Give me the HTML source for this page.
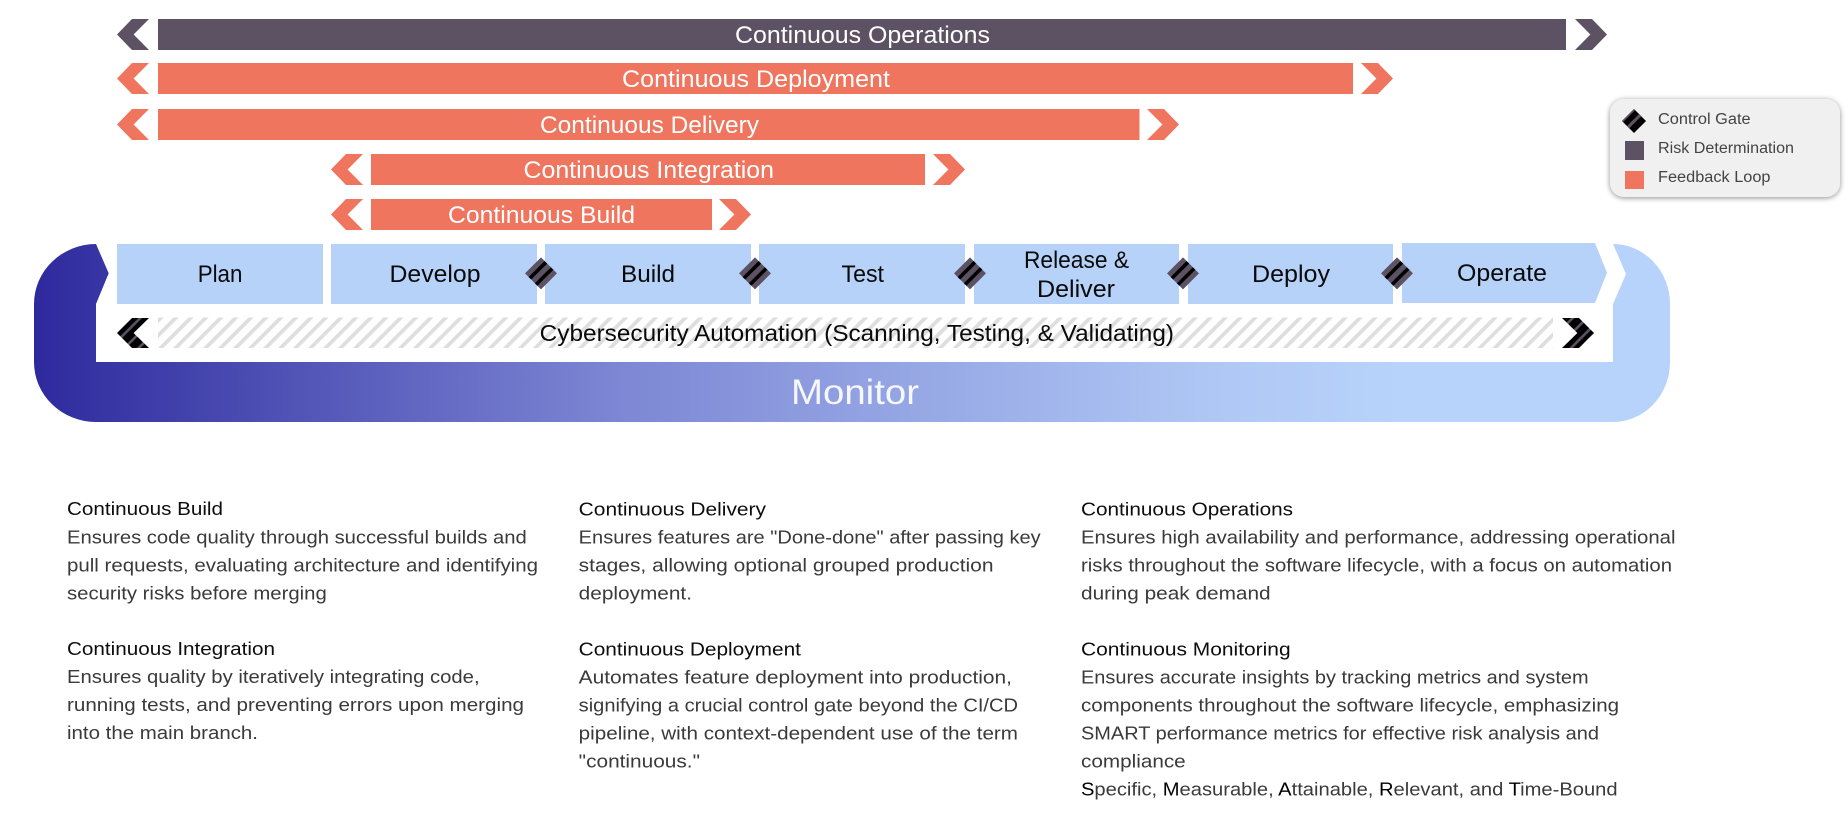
<!DOCTYPE html>
<html lang="en"><head><meta charset="utf-8"><title>Continuous pipeline diagram</title>
<style>
html,body{margin:0;padding:0;background:#fff;width:1848px;height:820px;overflow:hidden}
svg{display:block}
text{font-family:"Liberation Sans",sans-serif}
.bar{fill:#fff;font-size:24.5px}
.blk{fill:#0a0a0a;font-size:24px}
.h{fill:#0d0d0d;font-size:18px}
.b{fill:#3a3a3a;font-size:18px}
.b tspan{fill:#000}
.lg{fill:#444;font-size:15.5px}
</style></head><body>
<svg xmlns="http://www.w3.org/2000/svg" width="1848" height="820" viewBox="0 0 1848 820">
<defs>
<linearGradient id="mon" gradientUnits="userSpaceOnUse" x1="34" y1="0" x2="1400" y2="0">
<stop offset="0" stop-color="#2e2a9e"/><stop offset=".429" stop-color="#7d87d4"/><stop offset=".853" stop-color="#aec6f4"/><stop offset="1" stop-color="#b7d3fb"/>
</linearGradient>
<pattern id="hatch" patternUnits="userSpaceOnUse" width="10.6" height="10.6" patternTransform="translate(158 318) rotate(-45)">
<rect width="10.6" height="10.6" fill="#fff"/><rect width="10.6" height="3.7" fill="#dedede"/>
</pattern>
<pattern id="chev" patternUnits="userSpaceOnUse" width="10" height="10" patternTransform="translate(117 318) rotate(-45)">
<rect width="10" height="10" fill="#000"/><rect y="5.2" width="10" height="2.6" fill="#5c5263"/>
</pattern>
<pattern id="chev2" patternUnits="userSpaceOnUse" width="10" height="10" patternTransform="translate(1562 318) rotate(-45)">
<rect width="10" height="10" fill="#000"/><rect y="6.3" width="10" height="2.6" fill="#5c5263"/>
</pattern>
<filter id="sh" x="-10%" y="-20%" width="120%" height="140%"><feDropShadow dx="0" dy="1" stdDeviation="2.6" flood-color="#000" flood-opacity=".45"/></filter>
<g id="gate">
<rect x="-11.3" y="-11.3" width="22.6" height="22.6" fill="#5c5263"/>
<rect x="-11.3" y="-6.2" width="22.6" height="3.6" fill="#000"/>
<rect x="-11.3" y="2.6" width="22.6" height="3.6" fill="#000"/>
</g>
</defs>

<!-- top bars -->
<g fill="#5c5264">
<polygon points="149,19 132,19 117,34.5 132,50 149,50 133.6,34.5"/>
<rect x="158" y="19" width="1408" height="31"/>
<polygon points="1575,19 1592,19 1607,34.5 1592,50 1575,50 1590.4,34.5"/>
</g>
<g fill="#ef755f">
<polygon points="149,63 132,63 117,78.5 132,94 149,94 133.6,78.5"/>
<rect x="158" y="63" width="1195" height="31"/>
<polygon points="1361,63 1378,63 1393,78.5 1378,94 1361,94 1376.4,78.5"/>
<polygon points="149,109 132,109 117,124.5 132,140 149,140 133.6,124.5"/>
<rect x="158" y="109" width="981.5" height="31"/>
<polygon points="1147,109 1164,109 1179,124.5 1164,140 1147,140 1162.4,124.5"/>
<polygon points="363,154 346,154 331,169.5 346,185 363,185 347.6,169.5"/>
<rect x="371" y="154" width="554" height="31"/>
<polygon points="933,154 950,154 965,169.5 950,185 933,185 948.4,169.5"/>
<polygon points="363,199 346,199 331,214.5 346,230 363,230 347.6,214.5"/>
<rect x="371" y="199" width="341" height="31"/>
<polygon points="719,199 736,199 751,214.5 736,230 719,230 734.4,214.5"/>
</g>
<g class="bar">
<text x="735" y="43" textLength="255" lengthAdjust="spacingAndGlyphs">Continuous Operations</text>
<text x="622" y="87" textLength="268" lengthAdjust="spacingAndGlyphs">Continuous Deployment</text>
<text x="540" y="133" textLength="219" lengthAdjust="spacingAndGlyphs">Continuous Delivery</text>
<text x="523.5" y="178" textLength="250.5" lengthAdjust="spacingAndGlyphs">Continuous Integration</text>
<text x="448" y="223" textLength="187" lengthAdjust="spacingAndGlyphs">Continuous Build</text>
</g>

<!-- monitor -->
<path d="M96,244 L108.7,273.3 L96,304 L96,362 L1613,362 L1613,304 L1626,274 L1613,244 A57,60 0 0 1 1670,304 L1670,362 A57,60 0 0 1 1613,422 L96,422 A62,60 0 0 1 34,362 L34,304 A62,60 0 0 1 96,244 Z" fill="url(#mon)"/>
<text x="791" y="404" textLength="128" lengthAdjust="spacingAndGlyphs" fill="#fff" fill-opacity=".92" font-size="35">Monitor</text>

<!-- stages -->
<g fill="#b6d2f9">
<rect x="117" y="244" width="206" height="60"/>
<rect x="331" y="244" width="206" height="60"/>
<rect x="545" y="244" width="206" height="60"/>
<rect x="759" y="244" width="206" height="60"/>
<rect x="974" y="244" width="205" height="60"/>
<rect x="1188" y="244" width="205" height="60"/>
<polygon points="1402,243 1595,243 1607,272.7 1595,303 1402,303"/>
</g>
<g class="blk">
<text x="197.7" y="282" textLength="44.7" lengthAdjust="spacingAndGlyphs">Plan</text>
<text x="389.5" y="282" textLength="91" lengthAdjust="spacingAndGlyphs">Develop</text>
<text x="621" y="282" textLength="54" lengthAdjust="spacingAndGlyphs">Build</text>
<text x="841.5" y="282" textLength="42.5" lengthAdjust="spacingAndGlyphs">Test</text>
<text x="1024" y="268" textLength="105" lengthAdjust="spacingAndGlyphs">Release &amp;</text>
<text x="1037" y="297" textLength="78" lengthAdjust="spacingAndGlyphs">Deliver</text>
<text x="1252" y="282" textLength="78" lengthAdjust="spacingAndGlyphs">Deploy</text>
<text x="1457" y="281" textLength="90" lengthAdjust="spacingAndGlyphs">Operate</text>
</g>
<use href="#gate" transform="translate(541 273.4) rotate(-45)"/>
<use href="#gate" transform="translate(755 273.4) rotate(-45)"/>
<use href="#gate" transform="translate(970 273.4) rotate(-45)"/>
<use href="#gate" transform="translate(1183 273.4) rotate(-45)"/>
<use href="#gate" transform="translate(1397 273.4) rotate(-45)"/>

<!-- cyber -->
<polygon points="149,318 132,318 117,333 132,348 149,348 133.6,333" fill="url(#chev)"/>
<rect x="158" y="317.5" width="1395" height="30.5" fill="url(#hatch)"/>
<polygon points="1562,318 1579,318 1594,333 1579,348 1562,348 1577.4,333" fill="url(#chev2)"/>
<text class="blk" x="539.7" y="341" textLength="634.3" lengthAdjust="spacingAndGlyphs" style="font-size:23.5px">Cybersecurity Automation (Scanning, Testing, &amp; Validating)</text>

<!-- legend -->
<rect x="1610" y="99" width="230" height="98" rx="14" ry="14" fill="#f0f0f0" filter="url(#sh)"/>
<g transform="translate(1634 121) rotate(-45)">
<rect x="-8.5" y="-8.5" width="17" height="17" fill="#000"/>
<rect x="-8.5" y="-8.5" width="17" height="1.6" fill="#5c5263"/>
<rect x="-8.5" y="-1.4" width="17" height="3.2" fill="#5c5263"/>
</g>
<rect x="1625" y="141" width="19" height="19" fill="#5c5264"/>
<rect x="1625" y="171" width="19" height="18" fill="#ef755f"/>
<g class="lg">
<text x="1658" y="124" textLength="92.6" lengthAdjust="spacingAndGlyphs">Control Gate</text>
<text x="1658" y="153" textLength="136" lengthAdjust="spacingAndGlyphs">Risk Determination</text>
<text x="1658" y="182" textLength="112.5" lengthAdjust="spacingAndGlyphs">Feedback Loop</text>
</g>

<!-- column 1 -->
<text class="h" x="67" y="515" textLength="156" lengthAdjust="spacingAndGlyphs">Continuous Build</text>
<g class="b">
<text x="67" y="543.5" textLength="459.8" lengthAdjust="spacingAndGlyphs">Ensures code quality through successful builds and</text>
<text x="67" y="571.5" textLength="471" lengthAdjust="spacingAndGlyphs">pull requests, evaluating architecture and identifying</text>
<text x="67" y="599.5" textLength="259.8" lengthAdjust="spacingAndGlyphs">security risks before merging</text>
</g>
<text class="h" x="67" y="655.2" textLength="208" lengthAdjust="spacingAndGlyphs">Continuous Integration</text>
<g class="b">
<text x="67" y="683.2" textLength="412.6" lengthAdjust="spacingAndGlyphs">Ensures quality by iteratively integrating code,</text>
<text x="67" y="711.2" textLength="457" lengthAdjust="spacingAndGlyphs">running tests, and preventing errors upon merging</text>
<text x="67" y="739.2" textLength="191" lengthAdjust="spacingAndGlyphs">into the main branch.</text>
</g>

<!-- column 2 -->
<text class="h" x="578.7" y="515.5" textLength="187.3" lengthAdjust="spacingAndGlyphs">Continuous Delivery</text>
<g class="b">
<text x="578.7" y="543.7" textLength="462" lengthAdjust="spacingAndGlyphs">Ensures features are "Done-done" after passing key</text>
<text x="578.7" y="571.7" textLength="414.8" lengthAdjust="spacingAndGlyphs">stages, allowing optional grouped production</text>
<text x="578.7" y="599.7" textLength="113.3" lengthAdjust="spacingAndGlyphs">deployment.</text>
</g>
<text class="h" x="578.7" y="655.7" textLength="222.3" lengthAdjust="spacingAndGlyphs">Continuous Deployment</text>
<g class="b">
<text x="578.7" y="683.7" textLength="433.3" lengthAdjust="spacingAndGlyphs">Automates feature deployment into production,</text>
<text x="578.7" y="711.7" textLength="439.3" lengthAdjust="spacingAndGlyphs">signifying a crucial control gate beyond the CI/CD</text>
<text x="578.7" y="739.7" textLength="439.3" lengthAdjust="spacingAndGlyphs">pipeline, with context-dependent use of the term</text>
<text x="578.7" y="767.7" textLength="121.3" lengthAdjust="spacingAndGlyphs">"continuous."</text>
</g>

<!-- column 3 -->
<text class="h" x="1081" y="515.3" textLength="212" lengthAdjust="spacingAndGlyphs">Continuous Operations</text>
<g class="b">
<text x="1081" y="543.7" textLength="594.5" lengthAdjust="spacingAndGlyphs">Ensures high availability and performance, addressing operational</text>
<text x="1081" y="571.7" textLength="591" lengthAdjust="spacingAndGlyphs">risks throughout the software lifecycle, with a focus on automation</text>
<text x="1081" y="599.7" textLength="189.6" lengthAdjust="spacingAndGlyphs">during peak demand</text>
</g>
<text class="h" x="1081" y="655.5" textLength="209.6" lengthAdjust="spacingAndGlyphs">Continuous Monitoring</text>
<g class="b">
<text x="1081" y="683.5" textLength="507.6" lengthAdjust="spacingAndGlyphs">Ensures accurate insights by tracking metrics and system</text>
<text x="1081" y="711.5" textLength="538" lengthAdjust="spacingAndGlyphs">components throughout the software lifecycle, emphasizing</text>
<text x="1081" y="739.5" textLength="518" lengthAdjust="spacingAndGlyphs">SMART performance metrics for effective risk analysis and</text>
<text x="1081" y="767.5" textLength="104.7" lengthAdjust="spacingAndGlyphs">compliance</text>
<text x="1081" y="795.5" textLength="536.6" lengthAdjust="spacingAndGlyphs"><tspan>S</tspan>pecific, <tspan>M</tspan>easurable, <tspan>A</tspan>ttainable, <tspan>R</tspan>elevant, and <tspan>T</tspan>ime-Bound</text>
</g>
</svg>
</body></html>
